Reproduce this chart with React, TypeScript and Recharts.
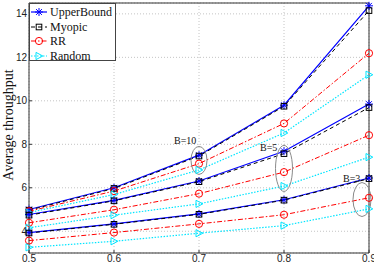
import React from 'react';
import {
  LineChart,
  Line,
  XAxis,
  YAxis,
  CartesianGrid,
  Legend,
  ReferenceDot,
  ReferenceLine,
} from 'recharts';

// ---------- data ----------
const X_VALUES = [0.5, 0.6, 0.7, 0.8, 0.9];
const X_TICKS = [0.5, 0.6, 0.7, 0.8, 0.9];
const Y_TICKS = [4, 6, 8, 10, 12, 14];

// B = 10
const UPPER_B10 = [5.0, 6.0, 7.5, 9.8, 14.37];
const MYOPIC_B10 = [4.97, 5.97, 7.46, 9.75, 14.15];
const RR_B10 = [4.92, 5.85, 7.11, 8.96, 12.19];
const RANDOM_B10 = [4.86, 5.69, 6.82, 8.52, 11.2];
// B = 5
const UPPER_B5 = [4.77, 5.42, 6.31, 7.68, 9.85];
const MYOPIC_B5 = [4.74, 5.4, 6.28, 7.57, 9.69];
const RR_B5 = [4.39, 4.99, 5.73, 6.72, 8.42];
const RANDOM_B5 = [4.16, 4.74, 5.26, 6.08, 7.41];
// B = 3
const UPPER_B3 = [3.94, 4.34, 4.8, 5.45, 6.45];
const MYOPIC_B3 = [3.92, 4.32, 4.78, 5.43, 6.42];
const RR_B3 = [3.57, 3.94, 4.34, 4.76, 5.54];
const RANDOM_B3 = [3.26, 3.54, 3.91, 4.26, 5.03];

const GROUP_LABELS = ['B=10', 'B=5', 'B=3'];
const GROUP_X = [0.7, 0.8, 0.9];
const GROUP_Y = [7.26, 6.89, 5.46];

type Kind = 'star' | 'square' | 'circle' | 'triangle';

const TYPES: { id: string; name: string; color: string; dash?: string; width: number; marker: Kind }[] = [
  { id: 'ub', name: 'UpperBound', color: '#0000ff', width: 1.2, marker: 'star' },
  { id: 'my', name: 'Myopic', color: '#000000', dash: '4 3', width: 1, marker: 'square' },
  { id: 'rr', name: 'RR', color: '#ff0000', dash: '5 2 1.5 2', width: 1, marker: 'circle' },
  { id: 'rnd', name: 'Random', color: '#00e5ff', dash: '1.5 1.5', width: 1.2, marker: 'triangle' },
];

const SERIES: { key: string; type: string; values: number[] }[] = [
  { key: 'ub10', type: 'ub', values: UPPER_B10 },
  { key: 'my10', type: 'my', values: MYOPIC_B10 },
  { key: 'rr10', type: 'rr', values: RR_B10 },
  { key: 'rnd10', type: 'rnd', values: RANDOM_B10 },
  { key: 'ub5', type: 'ub', values: UPPER_B5 },
  { key: 'my5', type: 'my', values: MYOPIC_B5 },
  { key: 'rr5', type: 'rr', values: RR_B5 },
  { key: 'rnd5', type: 'rnd', values: RANDOM_B5 },
  { key: 'ub3', type: 'ub', values: UPPER_B3 },
  { key: 'my3', type: 'my', values: MYOPIC_B3 },
  { key: 'rr3', type: 'rr', values: RR_B3 },
  { key: 'rnd3', type: 'rnd', values: RANDOM_B3 },
];

const DATA = X_VALUES.map((x, i) => {
  const row: Record<string, number> = { x };
  SERIES.forEach((s) => {
    row[s.key] = s.values[i];
  });
  return row;
});

// ---------- drawing helpers ----------
function Marker({ kind, cx, cy, color }: { kind: Kind; cx: number; cy: number; color: string }) {
  if (kind === 'star') {
    const s = 4;
    const d = 2.9;
    return (
      <g stroke={color} strokeWidth={1} fill="none">
        <line x1={cx - s} y1={cy} x2={cx + s} y2={cy} />
        <line x1={cx} y1={cy - s} x2={cx} y2={cy + s} />
        <line x1={cx - d} y1={cy - d} x2={cx + d} y2={cy + d} />
        <line x1={cx - d} y1={cy + d} x2={cx + d} y2={cy - d} />
      </g>
    );
  }
  if (kind === 'square') {
    return <rect x={cx - 2.8} y={cy - 2.8} width={5.6} height={5.6} fill="none" stroke={color} strokeWidth={1} />;
  }
  if (kind === 'circle') {
    return <circle cx={cx} cy={cy} r={3.6} fill="none" stroke={color} strokeWidth={1} />;
  }
  return (
    <polygon
      points={`${cx - 3},${cy - 3.6} ${cx + 3.8},${cy} ${cx - 3},${cy + 3.6}`}
      fill="none"
      stroke={color}
      strokeWidth={1}
    />
  );
}

const makeDot = (kind: Kind, color: string) => (props: any) => {
  const { cx, cy, index, dataKey } = props;
  if (cx == null || cy == null) return <g key={`${dataKey}-${index}`} />;
  return (
    <g key={`${dataKey}-${index}`}>
      <Marker kind={kind} cx={cx} cy={cy} color={color} />
    </g>
  );
};

const ELLIPSES = [
  { rx: 8, ry: 14, dx: 0, tdx: -25, tdy: -16 },
  { rx: 8.5, ry: 23, dx: 0, tdx: -24, tdy: -17 },
  { rx: 9, ry: 17, dx: -7, tdx: -26, tdy: -18 },
];

const makeEllipse = (i: number) => (props: any) => {
  const { cx, cy } = props;
  const e = ELLIPSES[i];
  return (
    <g>
      <ellipse cx={cx + e.dx} cy={cy} rx={e.rx} ry={e.ry} fill="none" stroke="#8a8a8a" strokeWidth={1} />
      <text
        x={cx + e.tdx}
        y={cy + e.tdy}
        fontFamily='"Liberation Serif", serif'
        fontSize={10}
        fill="#111"
      >
        {GROUP_LABELS[i]}
      </text>
    </g>
  );
};

const LegendBox = () => (
  <div
    style={{
      background: '#fff',
      border: '1px solid #444',
      width: 87,
      height: 58,
      boxSizing: 'border-box',
      paddingTop: 1,
      fontFamily: '"Liberation Serif", serif',
      fontSize: 12,
      color: '#111',
    }}
  >
    {TYPES.map((t) => (
      <div key={t.id} style={{ height: 14.5, display: 'flex', alignItems: 'center' }}>
        <svg width={19} height={12} style={{ display: 'block' }}>
          <line x1={1} y1={6} x2={17} y2={6} stroke={t.color} strokeWidth={t.width} strokeDasharray={t.dash} />
          <Marker kind={t.marker} cx={9} cy={6} color={t.color} />
        </svg>
        <span style={{ marginLeft: 1, lineHeight: '12px' }}>{t.name}</span>
      </div>
    ))}
  </div>
);

const YLabel = (props: any) => {
  const vb = props.viewBox || { x: 0, y: 3, width: 29, height: 250 };
  const x = 13;
  const y = vb.y + vb.height / 2 - 3;
  return (
    <text
      x={x}
      y={y}
      transform={`rotate(-90, ${x}, ${y})`}
      textAnchor="middle"
      fontFamily='"Liberation Serif", serif'
      fontSize={14}
      fill="#111"
    >
      Average throughput
    </text>
  );
};

const tickStyle = { fontFamily: '"Liberation Sans", Arial, sans-serif', fontSize: 10, fill: '#222' };

export default function App() {
  return (
    <div style={{ width: 374, height: 264, background: '#fff' }}>
      <style>{'body{margin:0;background:#fff}'}</style>
      <LineChart width={374} height={264} data={DATA} margin={{ top: 3, right: 5, bottom: 0, left: 0 }}>
        <CartesianGrid stroke="#c4c4c4" strokeDasharray="1 2" />
        <XAxis
          dataKey="x"
          type="number"
          domain={[0.5, 0.9]}
          ticks={X_TICKS}
          tickFormatter={(v: number) => v.toFixed(1)}
          height={11}
          stroke="#333"
          tickSize={-3}
          tickMargin={5}
          tick={tickStyle}
          interval={0}
        />
        <YAxis
          type="number"
          domain={[3, 14.5]}
          ticks={Y_TICKS}
          width={29}
          stroke="#333"
          tickSize={-3}
          tickMargin={5}
          tick={tickStyle}
          interval={0}
          label={{ content: YLabel }}
        />
        <ReferenceLine y={14.5} stroke="#333" />
        <ReferenceLine x={0.9} stroke="#333" />
        {SERIES.map((s) => {
          const t = TYPES.find((tt) => tt.id === s.type)!;
          return (
            <Line
              key={s.key}
              dataKey={s.key}
              name={t.name}
              stroke={t.color}
              strokeWidth={t.width}
              strokeDasharray={t.dash}
              dot={makeDot(t.marker, t.color)}
              activeDot={false}
              isAnimationActive={false}
              legendType="none"
            />
          );
        })}
        {GROUP_X.map((gx, i) => (
          <ReferenceDot key={GROUP_LABELS[i]} x={gx} y={GROUP_Y[i]} shape={makeEllipse(i)} />
        ))}
        <Legend
          layout="vertical"
          align="center"
          verticalAlign="middle"
          content={<LegendBox />}
          wrapperStyle={{ left: 29, top: 3, width: 87, height: 58 }}
        />
      </LineChart>
    </div>
  );
}
